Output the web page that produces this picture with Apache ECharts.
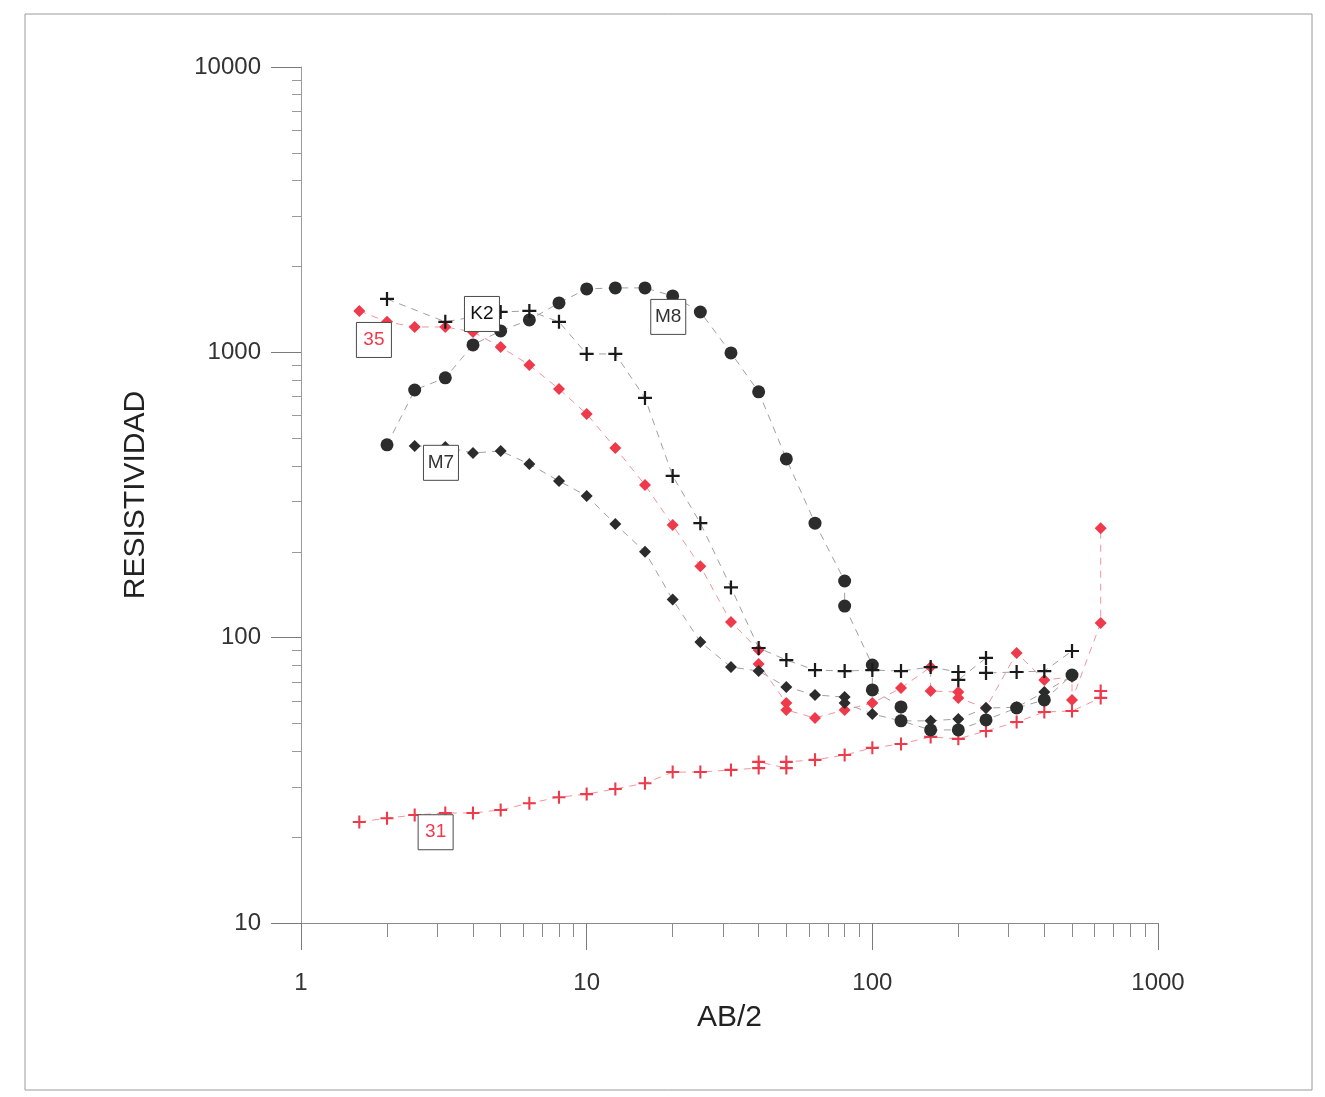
<!DOCTYPE html>
<html><head><meta charset="utf-8">
<script src="https://cdn.jsdelivr.net/npm/echarts@6/dist/echarts.min.js"></script>
<style>html,body{margin:0;padding:0;background:#fff}#c{width:1325px;height:1097px}</style>
</head><body><div id="c"></div>
<script>
// ---- data (AB/2 in m, apparent resistivity) ----
const k2X = [2, 3.2, 5, 6.3, 8, 10, 12.6, 16, 20, 25, 32, 40, 50, 63, 80, 100, 126, 160, 200, 200, 250, 250, 320, 400, 500];
const k2Y = [1538, 1279, 1385, 1397, 1279, 987, 987, 692, 369, 252, 150, 92, 83.5, 77, 76.4, 77, 76.4, 78.9, 75.8, 71.1, 84.9, 75.2, 75.8, 76.4, 89.8];

const m8X = [2, 2.5, 3.2, 4, 5, 6.3, 8, 10, 12.6, 16, 20, 25, 32, 40, 50, 63, 80, 80, 100, 100, 126, 126, 160, 200, 250, 320, 400, 500];
const m8Y = [474, 738, 814, 1062, 1189, 1299, 1490, 1668, 1682, 1682, 1576, 1385, 995, 727, 423, 252, 158, 129, 80.2, 65.6, 57.2, 51.1, 47.5, 47.5, 51.5, 56.7, 60.5, 74.0];

const m7X = [2.5, 3.2, 4, 5, 6.3, 8, 10, 12.6, 16, 20, 25, 32, 40, 50, 63, 80, 80, 100, 126, 160, 200, 250, 320, 400, 500];
const m7Y = [470, 466, 444, 451, 406, 354, 314, 250, 200, 136, 96.6, 78.9, 76.4, 67.2, 63.0, 61.9, 59.0, 54.0, 51.1, 51.1, 51.9, 56.7, 57.0, 64.5, 73.4];

const s35X = [1.6, 2, 2.5, 3.2, 4, 5, 6.3, 8, 10, 12.6, 16, 20, 25, 32, 40, 40, 50, 50, 63, 80, 100, 126, 160, 160, 200, 200, 250, 320, 400, 500, 500, 630, 630];
const s35Y = [1397, 1279, 1227, 1227, 1179, 1044, 903, 744, 608, 462, 343, 248, 178, 113.5, 90.5, 80.9, 59.0, 55.8, 52.3, 55.8, 59.0, 66.6, 78.9, 65.0, 64.5, 61.5, 56.7, 88.4, 71.1, 72.8, 60.5, 112.6, 242];

const s31X = [1.6, 2, 2.5, 3.2, 4, 5, 6.3, 8, 10, 12.6, 16, 20, 25, 32, 40, 40, 50, 50, 63, 80, 100, 126, 160, 200, 250, 320, 400, 500, 630, 630];
const s31Y = [22.6, 23.3, 23.9, 24.3, 24.3, 24.9, 26.3, 27.6, 28.3, 29.5, 30.9, 33.8, 33.8, 34.4, 34.9, 36.7, 34.9, 36.7, 37.3, 38.8, 41.1, 42.4, 44.9, 44.2, 47.1, 50.6, 54.9, 55.3, 61.5, 65.0];

// curve name tags: [name, AB/2, resistivity]
const tagNames = ['K2', 'M8', 'M7', '35', '31'];
const tagX = [4.3, 19.3, 3.09, 1.80, 2.96];
const tagY = [1363, 1331, 410, 1105, 20.8];

// axis ticks
const xMajor = [1, 10, 100, 1000];
const xMinor = [2, 3, 4, 5, 6, 7, 8, 9, 20, 30, 40, 50, 60, 70, 80, 90, 200, 300, 400, 500, 600, 700, 800, 900];
const yMajor = [10, 100, 1000, 10000];
const yMinor = [20, 30, 40, 50, 60, 70, 80, 90, 200, 300, 400, 500, 600, 700, 800, 900, 2000, 3000, 4000, 5000, 6000, 7000, 8000, 9000];

const FONT = '"Liberation Sans", Arial, sans-serif';
const BLACK = '#2b2d2c';
const RED = '#ef3a4c';
const BLACK_LINE = '#a0a0a0';
const RED_LINE = '#f3949c';
const PLUS = 'path://M4.2,0 H5.8 V4.2 H10 V5.8 H5.8 V10 H4.2 V5.8 H0 V4.2 H4.2 Z';

function pairs(xs, ys) { return xs.map((v, i) => [v, ys[i]]); }
function tag(name, textColor) {
  const i = tagNames.indexOf(name);
  return {
    symbol: 'rect', symbolSize: [35, 35], silent: true,
    itemStyle: { color: '#fff', borderColor: '#4a4a4a', borderWidth: 1 },
    label: { show: true, formatter: name, color: textColor, fontSize: 19, fontFamily: FONT },
    data: [{ coord: [tagX[i], tagY[i]] }]
  };
}
function series(name, xs, ys, symbol, size, color, lineColor, textColor, z) {
  return {
    name, type: 'line', data: pairs(xs, ys), symbol, symbolSize: size,
    showAllSymbol: true, z,
    itemStyle: { color },
    lineStyle: { color: lineColor, width: 1, type: [7, 6] },
    emphasis: { disabled: true },
    markPoint: Object.assign(tag(name, textColor), { z: 10 })
  };
}

const chart = echarts.init(document.getElementById('c'), null, { renderer: 'canvas' });
chart.setOption({
  animation: false,
  backgroundColor: '#fff',
  graphic: [{
    type: 'rect', shape: { x: 25, y: 14, width: 1287, height: 1076 },
    style: { fill: 'none', stroke: '#9a9a9a', lineWidth: 1 }, silent: true, z: -1
  }],
  grid: { left: 301, right: 167, top: 67, bottom: 174, containLabel: false },
  xAxis: [{
    type: 'log', logBase: 10, min: 1, max: 1000,
    axisLine: { show: true, lineStyle: { color: '#8a8a8a', width: 1 } },
    axisTick: { show: true, length: 27, inside: false, lineStyle: { color: '#7a7a7a' } },
    axisLabel: { fontSize: 24, color: '#333', margin: 48, fontFamily: FONT,
      customValues: xMajor, formatter: v => String(v) },
    splitLine: { show: false },
    name: 'AB/2', nameLocation: 'middle', nameGap: 80,
    nameTextStyle: { fontSize: 30, color: '#222', fontFamily: FONT }
  }, {
    type: 'log', logBase: 10, min: 1, max: 1000, position: 'bottom',
    axisLine: { show: false },
    axisTick: { show: true, length: 14, customValues: xMinor, lineStyle: { color: '#8a8a8a' } },
    axisLabel: { show: false }, splitLine: { show: false }
  }],
  yAxis: [{
    type: 'log', logBase: 10, min: 10, max: 10000,
    axisLine: { show: true, lineStyle: { color: '#9a9a9a', width: 1 } },
    axisTick: { show: true, length: 30, lineStyle: { color: '#7a7a7a' } },
    axisLabel: { fontSize: 24, color: '#333', margin: 40, fontFamily: FONT,
      customValues: yMajor, formatter: v => String(v) },
    splitLine: { show: false },
    name: 'RESISTIVIDAD', nameLocation: 'middle', nameGap: 150,
    nameTextStyle: { fontSize: 30, color: '#222', fontFamily: FONT }
  }, {
    type: 'log', logBase: 10, min: 10, max: 10000, position: 'left',
    axisLine: { show: false },
    axisTick: { show: true, length: 9, customValues: yMinor, lineStyle: { color: '#9a9a9a' } },
    axisLabel: { show: false }, splitLine: { show: false }
  }],
  series: [
    series('31', s31X, s31Y, PLUS, 13, RED, RED_LINE, RED, 2),
    series('35', s35X, s35Y, 'diamond', 12, RED, RED_LINE, RED, 3),
    series('M7', m7X, m7Y, 'diamond', 12, BLACK, BLACK_LINE, '#333', 4),
    series('M8', m8X, m8Y, 'circle', 13, BLACK, BLACK_LINE, '#333', 5),
    series('K2', k2X, k2Y, PLUS, 14, '#1a1a1a', BLACK_LINE, '#111', 6)
  ]
});
</script>
</body></html>
